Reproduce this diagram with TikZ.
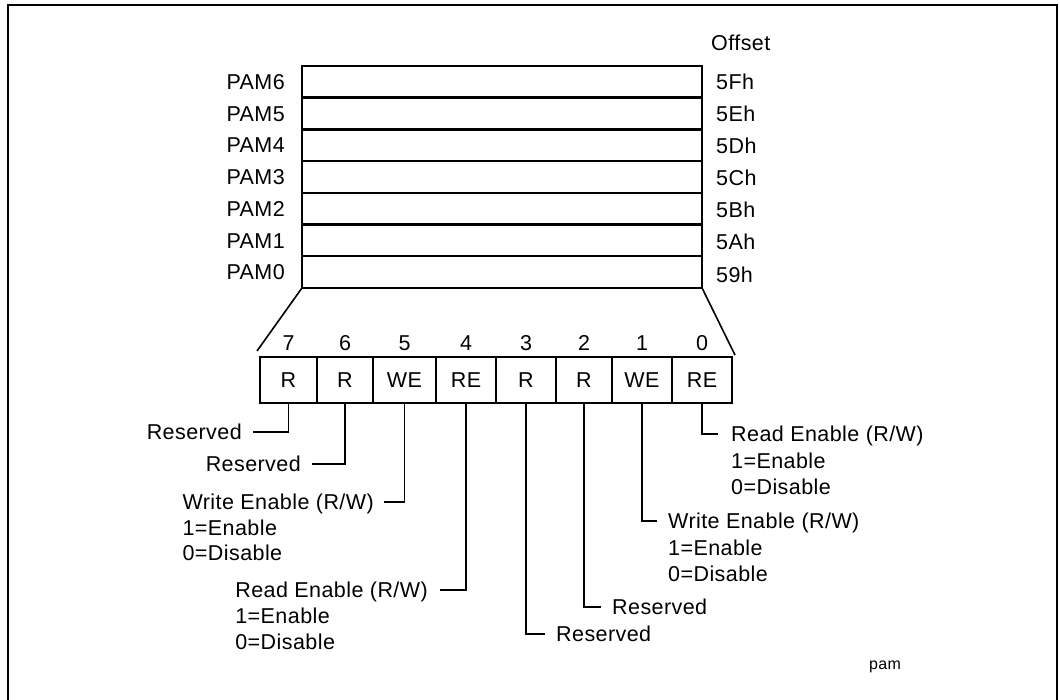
\documentclass[tikz,border=0pt]{standalone}
\usepackage{fontspec}
\setmainfont{Liberation Sans}[LetterSpace=2]
\usetikzlibrary{calc}
\begin{document}
\begin{tikzpicture}[x=1pt,y=-1pt,
  lbl/.style={inner sep=0pt, text height=15.4pt, text depth=0pt, font=\fontsize{21.5}{26}\selectfont},
  small/.style={inner sep=0pt, font=\fontsize{16}{19}\selectfont},
  row/.style={draw, line width=1.7pt, minimum width=400pt, minimum height=31.7pt, inner sep=0pt, outer sep=0pt, anchor=north west},
  divider/.style={line width=2.5pt},
  cell/.style={lbl, draw, line width=1.5pt, minimum height=46pt, outer sep=0pt, anchor=north west},
  lead/.style={line width=1.8pt},
  diag/.style={line width=1.6pt},
  frame/.style={line width=2.7pt}
]
\useasboundingbox (0,0) rectangle (1060,700);
% frame
\draw[frame] (8,703) -- (8,5) -- (1057,5) -- (1057,703);

% register rows
\node[row] (p6) at (302,66.0) {};
\node[row] (p5) at (302,97.7) {};
\node[row] (p4) at (302,129.4) {};
\node[row] (p3) at (302,161.1) {};
\node[row] (p2) at (302,192.8) {};
\node[row] (p1) at (302,224.5) {};
\node[row] (p0) at (302,256.2) {};
\foreach \r in {p6,p5,p4,p3,p2,p1} {\draw[divider] (\r.south west) -- (\r.south east);}

% row labels
\node[lbl, anchor=east] (lp6) at (285,81.9) {PAM6};
\node[lbl, anchor=east] (lp5) at (285,113.6) {PAM5};
\node[lbl, anchor=east] (lp4) at (285,145.3) {PAM4};
\node[lbl, anchor=east] (lp3) at (285,177.0) {PAM3};
\node[lbl, anchor=east] (lp2) at (285,208.7) {PAM2};
\node[lbl, anchor=east] (lp1) at (285,240.4) {PAM1};
\node[lbl, anchor=east] (lp0) at (285,272.1) {PAM0};

\node[lbl, anchor=west] (off) at (711,43) {Offset};
\node[lbl, anchor=west] (o6) at (716,82.0) {5Fh};
\node[lbl, anchor=west] (o5) at (716,114.0) {5Eh};
\node[lbl, anchor=west] (o4) at (716,146.0) {5Dh};
\node[lbl, anchor=west] (o3) at (716,178.0) {5Ch};
\node[lbl, anchor=west] (o2) at (716,210.0) {5Bh};
\node[lbl, anchor=west] (o1) at (716,242.0) {5Ah};
\node[lbl, anchor=west] (o0) at (716,274.5) {59h};

% bit cells
\node[cell, minimum width=57pt] (c7) at (260,357) {R};
\node[cell, minimum width=56pt] (c6) at (317,357) {R};
\node[cell, minimum width=63pt] (c5) at (373,357) {WE};
\node[cell, minimum width=60pt] (c4) at (436,357) {RE};
\node[cell, minimum width=60pt] (c3) at (496,357) {R};
\node[cell, minimum width=56pt] (c2) at (556,357) {R};
\node[cell, minimum width=60pt] (c1) at (612,357) {WE};
\node[cell, minimum width=60pt] (c0) at (672,357) {RE};

% bit numbers
\foreach \b in {7,6,5,4,3,2,1,0} {\node[lbl] (n\b) at ($(c\b.north)+(0,-14)$) {\b};}

% expansion lines
\coordinate (dl) at (257,351);
\coordinate (dr) at (735,355);
\draw[diag] (p0.south west) -- (dl);
\draw[diag] (p0.south east) -- (dr);

% left labels
\node[lbl, anchor=east] (l7) at (242,432) {Reserved};
\node[lbl, anchor=east] (l6) at (301,464) {Reserved};
\node[lbl, anchor=east] (l5) at (374,502) {Write Enable (R/W)};
\node[lbl, anchor=west] (l5a) at ($(l5.west)+(0,25.5)$) {1=Enable};
\node[lbl, anchor=west] (l5b) at ($(l5.west)+(0,51)$) {0=Disable};
\node[lbl, anchor=east] (l4) at (428,590) {Read Enable (R/W)};
\node[lbl, anchor=west] (l4a) at ($(l4.west)+(0,26)$) {1=Enable};
\node[lbl, anchor=west] (l4b) at ($(l4.west)+(0,52)$) {0=Disable};

% right labels
\node[lbl, anchor=west] (r0) at (731,434) {Read Enable (R/W)};
\node[lbl, anchor=west] (r0a) at ($(r0.west)+(0,26.5)$) {1=Enable};
\node[lbl, anchor=west] (r0b) at ($(r0.west)+(0,53)$) {0=Disable};
\node[lbl, anchor=west] (r1) at (668,521) {Write Enable (R/W)};
\node[lbl, anchor=west] (r1a) at ($(r1.west)+(0,26.5)$) {1=Enable};
\node[lbl, anchor=west] (r1b) at ($(r1.west)+(0,53)$) {0=Disable};
\node[lbl, anchor=west] (r2) at (612,607) {Reserved};
\node[lbl, anchor=west] (r3) at (556,634) {Reserved};

% leaders
\draw[lead] (c7.south) |- ([xshift=11pt]l7.east);
\draw[lead] (c6.south) |- ([xshift=11pt]l6.east);
\draw[lead] (c5.south) |- ([xshift=10pt]l5.east);
\draw[lead] (c4.south) |- ([xshift=12pt]l4.east);
\draw[lead] (c3.south) |- ([xshift=-11pt]r3.west);
\draw[lead] (c2.south) |- ([xshift=-11pt]r2.west);
\draw[lead] (c1.south) |- ([xshift=-11pt]r1.west);
\draw[lead] (c0.south) |- ([xshift=-13pt]r0.west);

\node[small] (tag) at (885,667) {pam};
\end{tikzpicture}
\end{document}
